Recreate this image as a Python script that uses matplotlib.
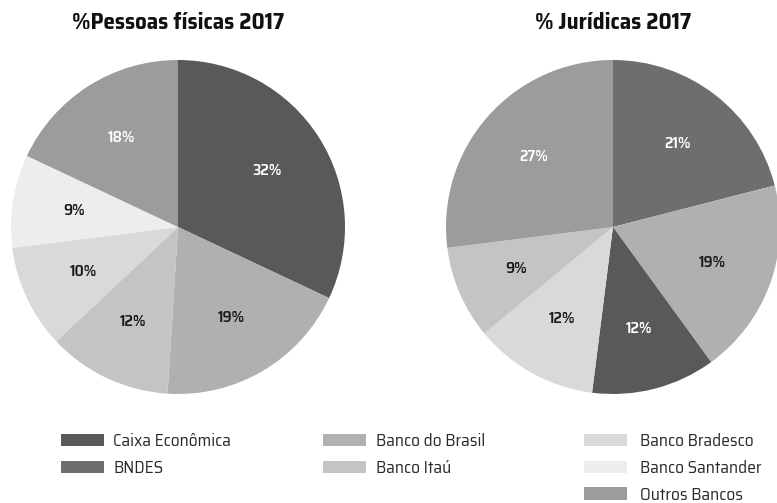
import matplotlib
matplotlib.use('Agg')
import matplotlib.pyplot as plt
from matplotlib.patches import Patch

# data
bancos = ['Caixa Econômica', 'BNDES', 'Banco do Brasil', 'Banco Itaú',
          'Banco Bradesco', 'Banco Santander', 'Outros Bancos']
cores = ['#595959', '#6e6e6e', '#b0b0b0', '#c4c4c4', '#d9d9d9', '#ededed', '#9c9c9c']

pf_bancos = ['Caixa Econômica', 'Banco do Brasil', 'Banco Itaú', 'Banco Bradesco',
             'Banco Santander', 'Outros Bancos']
pf_valores = [32, 19, 12, 10, 9, 18]

pj_bancos = ['BNDES', 'Banco do Brasil', 'Caixa Econômica', 'Banco Bradesco',
             'Banco Itaú', 'Outros Bancos']
pj_valores = [21, 19, 12, 12, 9, 27]

titulos = ['%Pessoas físicas 2017', '% Jurídicas 2017']

escuros = ['Caixa Econômica', 'BNDES', 'Outros Bancos']
cor_de = dict(zip(bancos, cores))

fonte = 'Saira SemiCondensed'

W, H = 777, 503
fig = plt.figure(figsize=(W / 100, H / 100), dpi=100)

R = 167
centros = [(178, 227), (613, 227)]
dados = [(pf_bancos, pf_valores), (pj_bancos, pj_valores)]

for (cx, cy), (nomes, vals), titulo in zip(centros, dados, titulos):
    ax = fig.add_axes([(cx - R) / W, (H - cy - R) / H, 2 * R / W, 2 * R / H])
    wedges, texts, autotexts = ax.pie(vals, colors=[cor_de[n] for n in nomes],
                                      startangle=90, counterclock=False,
                                      autopct='%1.0f%%', pctdistance=0.63,
                                      wedgeprops=dict(linewidth=0))
    for n, t in zip(nomes, autotexts):
        t.set_color('white' if n in escuros else '#1a1a1a')
        t.set_fontsize(11.5)
        t.set_fontweight('semibold')
        t.set_family(fonte)
    ax.set_xlim(-1, 1)
    ax.set_ylim(-1, 1)
    ax.set_aspect('equal')
    ax.axis('off')
    fig.text(cx / W, 1 - 23 / H, titulo, ha='center', va='center',
             fontsize=16.5, fontweight='bold', color='#111111', family=fonte)

# legend in three columns
grupos = [bancos[0:2], bancos[2:4], bancos[4:7]]
xs = [61, 323, 584]
pads = [0.55, 0.6, 0.8]
for g, x, p in zip(grupos, xs, pads):
    handles = [Patch(facecolor=cor_de[n], edgecolor='none') for n in g]
    fig.legend(handles, g, loc='upper left', bbox_to_anchor=(x / W, 1 - 433 / H),
               frameon=False, prop={'family': fonte, 'size': 12.5},
               handlelength=2.45, handleheight=0.7,
               handletextpad=p, labelspacing=0.62, borderpad=0, borderaxespad=0,
               labelcolor='#2a2a2a')

fig.savefig('out.png', dpi=100)
